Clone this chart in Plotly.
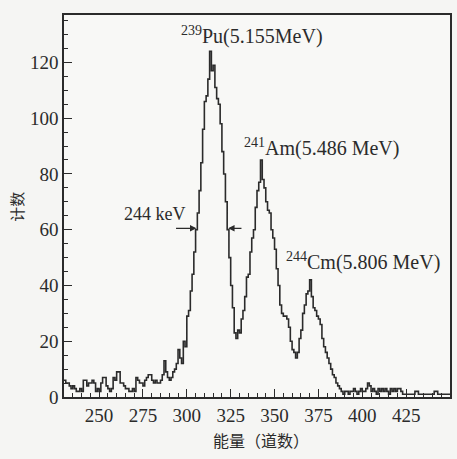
import plotly.graph_objects as go

# Channel numbers (left edge of each 1-channel bin)
channels = list(range(230, 450))

# Counts per channel
counts = [
    6, 5, 5, 4, 3, 4, 3, 2, 2, 3,          # 230-239
    2, 6, 6, 4, 5, 5, 6, 5, 2, 3,          # 240-249
    2, 5, 7, 7, 4, 3, 2, 3, 7, 6,          # 250-259
    9, 9, 5, 5, 4, 3, 3, 2, 2, 3,          # 260-269
    2, 7, 6, 5, 5, 4, 6, 7, 8, 8,          # 270-279
    6, 5, 6, 5, 5, 6, 8, 13, 9, 7,         # 280-289
    6, 7, 9, 10, 12, 17, 14, 12, 20, 18,   # 290-299
    29, 31, 38, 44, 52, 60, 66, 74, 84, 96,          # 300-309
    106, 108, 114, 124, 117, 119, 111, 107, 105, 98,  # 310-319
    88, 80, 70, 60, 50, 40, 32, 23, 21, 24,          # 320-329
    23, 28, 31, 36, 43, 44, 52, 57, 60, 68,          # 330-339
    74, 77, 85, 78, 75, 70, 67, 66, 60, 57,          # 340-349
    53, 46, 40, 33, 30, 29, 29, 28, 25, 20,          # 350-359
    17, 16, 14, 16, 21, 24, 30, 33, 37, 38,          # 360-369
    42, 36, 32, 31, 29, 28, 26, 21, 18, 16,          # 370-379
    14, 12, 10, 8, 7, 5, 4, 3, 2, 1,                 # 380-389
    2, 2, 1, 2, 2, 3, 2, 1, 2, 3,                    # 390-399
    2, 2, 3, 5, 4, 2, 3, 2, 1, 3,                    # 400-409
    2, 3, 2, 3, 2, 1, 3, 2, 3, 2,                    # 410-419
    3, 3, 2, 1, 1, 1, 1, 1, 1, 1,                    # 420-429
    2, 2, 1, 1, 1, 1, 1, 1, 1, 1,                    # 430-439
    1, 2, 2, 1, 1, 1, 1, 1, 1, 1,                    # 440-449
]

x_ticks = [250, 275, 300, 325, 350, 375, 400, 425]
y_ticks = [0, 20, 40, 60, 80, 100, 120]

peak_labels = ["<sup>239</sup>Pu(5.155MeV)",
               "<sup>241</sup>Am(5.486 MeV)",
               "<sup>244</sup>Cm(5.806 MeV)"]
peak_label_x = [295.5, 331.5, 355.5]
peak_label_y = [129.5, 89.5, 48.5]

fwhm_text = "244 keV"
fwhm_left = [293, 305.5]    # tail, head of left arrow
fwhm_right = [332, 323.5]   # tail, head of right arrow
fwhm_y = 60.5

x_step = channels + [channels[-1] + 1]
y_step = counts + [counts[-1]]

ink = "#2b2b2b"
serif = "Liberation Serif, Times New Roman, serif"
cjk = "Noto Sans CJK SC, sans-serif"

fig = go.Figure()
fig.add_trace(go.Scatter(
    x=x_step, y=y_step, mode="lines", line_shape="hv",
    line=dict(color=ink, width=1.6), showlegend=False, hoverinfo="skip"))

for txt, xx, yy in zip(peak_labels, peak_label_x, peak_label_y):
    fig.add_annotation(x=xx, y=yy, text=txt, showarrow=False,
                       xanchor="left", yanchor="middle",
                       font=dict(family=serif, size=20, color=ink))

fig.add_annotation(x=300.8, y=65.5, text=fwhm_text, showarrow=False,
                   xanchor="right", yanchor="middle",
                   font=dict(family=serif, size=18, color=ink))
for tail, head in (fwhm_left, fwhm_right):
    fig.add_annotation(x=head, y=fwhm_y, ax=tail, ay=fwhm_y,
                       xref="x", yref="y", axref="x", ayref="y",
                       text="", showarrow=True, arrowhead=2, arrowsize=1,
                       arrowwidth=1.3, arrowcolor=ink)

axis_common = dict(
    showgrid=False, zeroline=False, showline=True, linecolor=ink,
    linewidth=1.6, mirror=True, ticks="inside", ticklen=8, tickwidth=1.4,
    tickcolor=ink, tickfont=dict(family=serif, size=19, color=ink),
    automargin=False,
)

fig.update_xaxes(range=[230, 450], tickvals=x_ticks,
                 minor=dict(dtick=5, tick0=0, ticks="inside", ticklen=4,
                            tickwidth=1, tickcolor=ink),
                 **axis_common)
fig.update_yaxes(range=[0, 137], tickvals=y_ticks,
                 minor=dict(dtick=5, tick0=0, ticks="inside", ticklen=4,
                            tickwidth=1, tickcolor=ink),
                 **axis_common)

# Axis titles placed in paper coordinates to match the reference layout
fig.add_annotation(xref="paper", yref="paper", x=0.511, y=-0.112,
                   text="能量（道数）", showarrow=False,
                   xanchor="center", yanchor="middle",
                   font=dict(family=cjk, size=16, color=ink))
fig.add_annotation(xref="paper", yref="paper", x=-0.122, y=0.498,
                   text="计数", showarrow=False, textangle=-90,
                   xanchor="center", yanchor="middle",
                   font=dict(family=cjk, size=15, color=ink))

fig.update_layout(
    width=457, height=459,
    margin=dict(l=64, r=7, t=15, b=62),
    paper_bgcolor="#f5f5f3", plot_bgcolor="#f8f8f6",
)

fig.write_html(
    "out.html",
    config={"displayModeBar": False},
    post_script="document.body.style.margin='0';"
                "document.body.style.overflow='hidden';"
                "document.body.style.background='#f5f5f3';",
)
